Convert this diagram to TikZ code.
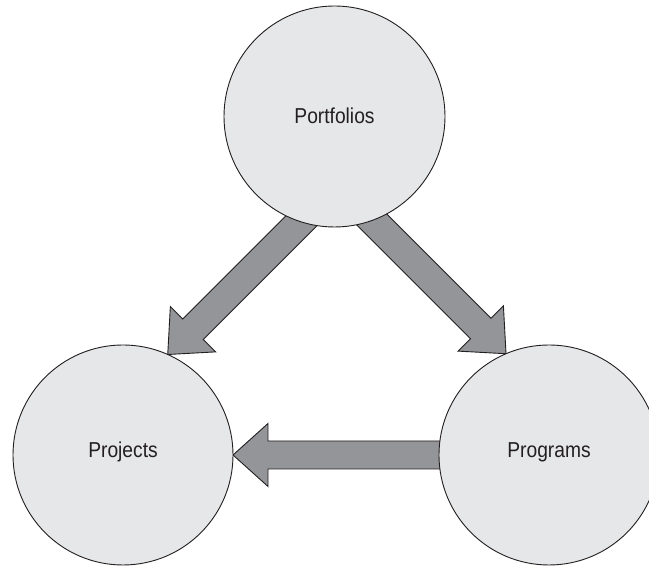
\documentclass[tikz,border=0pt]{standalone}
\usepackage{fontspec}
\newfontfamily\condsans[FakeStretch=0.89]{Liberation Sans}
\usetikzlibrary{backgrounds}
\definecolor{lineclr}{HTML}{231F20}
\definecolor{circfill}{HTML}{E6E7E8}
\definecolor{arrowfill}{HTML}{939598}
\begin{document}
\begin{tikzpicture}[x=1pt,y=1pt,
  circ/.style={circle, draw=lineclr, line width=0.9pt, fill=circfill,
    inner sep=0pt, outer sep=0pt, text=lineclr,
    font=\condsans\fontsize{21.6}{24}\selectfont, text height=15.5pt},
  fatarrow/.style={draw=lineclr, line width=0.9pt, fill=arrowfill, line join=miter}]
\clip (0,0) rectangle (649,567);
\node[circ, minimum size=221pt, text depth=2pt] (port) at (334.5,450.5) {Portfolios};
\node[circ, minimum size=220pt, text depth=10pt] (proj) at (123,112) {Projects};
\node[circ, minimum size=220pt, text depth=10pt] (prog) at (549,112) {Programs};
\begin{scope}[on background layer]
  \fill[white] (0,0) rectangle (649,567);
  \begin{scope}[shift={(proj.66.9)}, rotate=45]
    \draw[fatarrow] (0,0) -- (35.7,32) -- (35.7,14.5) -- (230,14.5) -- (230,-14.5) -- (35.7,-14.5) -- (35.7,-32) -- cycle;
  \end{scope}
  \begin{scope}[shift={(prog.113.1)}, rotate=135]
    \draw[fatarrow] (0,0) -- (35.7,32) -- (35.7,14.5) -- (230,14.5) -- (230,-14.5) -- (35.7,-14.5) -- (35.7,-32) -- cycle;
  \end{scope}
  \begin{scope}[shift={(proj.east)}]
    \draw[fatarrow] (0,0) -- (35,31.5) -- (35,14) -- (260,14) -- (260,-14) -- (35,-14) -- (35,-31.5) -- cycle;
  \end{scope}
\end{scope}
\end{tikzpicture}
\end{document}
